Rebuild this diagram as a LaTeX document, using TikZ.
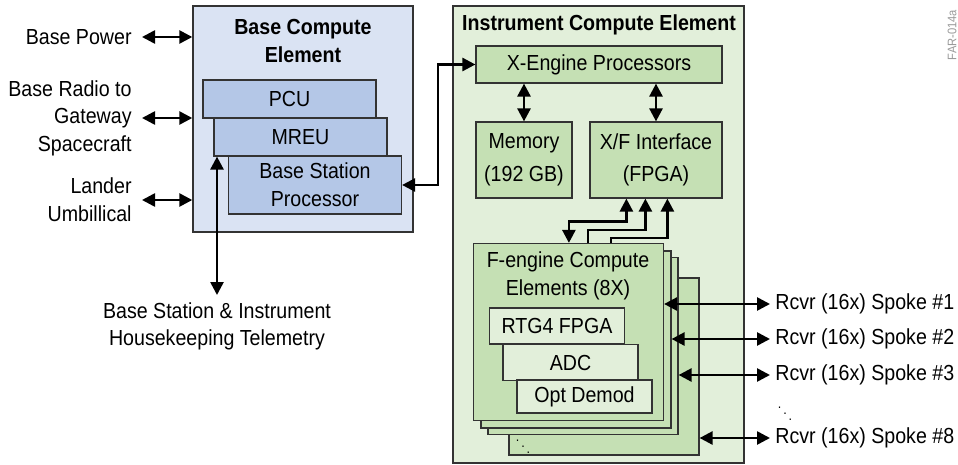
\documentclass[tikz,border=0pt]{standalone}
\usepackage{fontspec}
\setmainfont{Liberation Sans}[FakeStretch=0.9]
\usepackage{xcolor}
\usepackage{tikz}
\definecolor{basecolor}{RGB}{218, 227, 243}
\definecolor{baseinner}{RGB}{180, 199, 231}
\definecolor{instcolor}{RGB}{226, 239, 218}
\definecolor{instinner}{RGB}{197, 224, 180}
\usetikzlibrary{arrows.meta, positioning, calc}

\begin{document}
\begin{tikzpicture}[x=0.5pt, y=-0.5pt,
    every node/.style={font=\fontsize{10.9pt}{13.8pt}\selectfont},
    title/.style={font=\fontsize{10.9pt}{13.8pt}\selectfont\bfseries, align=center},
    outer/.style={rectangle, draw=black!80, line width=0.7pt, inner sep=0pt},
    block/.style={rectangle, draw=black!80, line width=0.6pt, inner sep=0pt, align=center},
    baseblock/.style={block, fill=baseinner, minimum width=86.5pt, minimum height=19pt},
    greenblock/.style={block, fill=instinner},
    festack/.style={block, fill=instinner, minimum width=95pt, minimum height=88.5pt},
    chip/.style={block, fill=instcolor, minimum width=67.5pt, minimum height=18pt},
    sidetext/.style={anchor=east, align=right, inner xsep=5pt, inner ysep=0pt},
    spoke/.style={anchor=west, inner xsep=2.5pt, inner ysep=0pt},
    dots/.style={font=\fontsize{7pt}{8pt}\selectfont},
    arrow/.style={{Triangle[length=6.5pt, width=6.5pt]}-{Triangle[length=6.5pt, width=6.5pt]}, line width=1.3pt},
    toarrow/.style={-{Triangle[length=6.5pt, width=6.5pt]}, line width=1.3pt}
]
    \useasboundingbox (0,0) rectangle (958,465);

    % Base compute element
    \node[outer, fill=basecolor, minimum width=110pt, minimum height=113pt] (bce) at (303,119) {};
    \node[title] (bcetitle) at (303,41) {Base Compute\\Element};
    \node[baseblock] (pcu) at (289.5,99) {PCU};
    \node[baseblock] (mreu) at (300.5,137) {MREU};
    \node[baseblock, minimum height=29pt] (bsp) at (315,185) {Base Station\\Processor};

    % Instrument compute element
    \node[outer, fill=instcolor, minimum width=145.5pt, minimum height=228.5pt] (ice) at (598.5,234.5) {};
    \node[title] (icetitle) at (599,25) {Instrument Compute Element};
    \node[greenblock, minimum width=123pt, minimum height=18.5pt] (xeng) at (599,64.5) {X-Engine Processors};
    \node[greenblock, minimum width=48pt, minimum height=38pt] (mem) at (524,160) {Memory\\[2.5pt](192 GB)};
    \node[greenblock, minimum width=66pt, minimum height=38pt] (xf) at (656,160) {X/F Interface\\[2.5pt](FPGA)};

    % F-engine stack
    \node[festack] (fe4) at (604,366.5) {};
    \node[festack] (fe3) at (583,346) {};
    \node[festack] (fe2) at (576,339.5) {};
    \node[festack] (fe1) at (568.5,332) {};
    \node[align=center] (fetitle) at (568,276) {F-engine Compute\\Elements (8X)};
    \node[dots] (fedots) at (523,441) {$\ddots$};
    \node[chip] (rtg) at (557,326) {RTG4 FPGA};
    \node[chip] (adc) at (570.5,362.5) {ADC};
    \node[chip, minimum height=16.5pt] (opt) at (584.5,396.5) {Opt Demod};

    % Outside labels
    \node[sidetext] (bpow) at (142,37) {Base Power};
    \node[sidetext] (radio) at (142,118) {Base Radio to\\Gateway\\Spacecraft};
    \node[sidetext] (lander) at (142,200) {Lander\\Umbillical};
    \node[align=center, anchor=north, inner xsep=0pt, inner ysep=3.5pt] (tlm) at (217,295) {Base Station \& Instrument\\Housekeeping Telemetry};
    \node[spoke] (sp1) at (770,304) {Rcvr (16x) Spoke \#1};
    \node[spoke] (sp2) at (770,339) {Rcvr (16x) Spoke \#2};
    \node[spoke] (sp3) at (770,375) {Rcvr (16x) Spoke \#3};
    \node[spoke] (sp8) at (770,438) {Rcvr (16x) Spoke \#8};
    \node[dots] (spdots) at (785,408) {$\ddots$};
    \node[rotate=90, text=black!40, font=\fontsize{6.2pt}{7pt}\selectfont] (farid) at (952,35) {FAR-014a};

    % Arrows
    \draw[arrow] (bpow.east) -- (bpow.east -| bce.west);
    \draw[arrow] (radio.east) -- (radio.east -| bce.west);
    \draw[arrow] (lander.east) -- (lander.east -| bce.west);
    \draw[arrow] (tlm.north) -- (tlm.north |- mreu.south);
    \draw[arrow] (bsp.east) -- ++(36,0) |- (xeng.west);
    \draw[arrow] (mem.north) -- (mem.north |- xeng.south);
    \draw[arrow] (xf.north) -- (xf.north |- xeng.south);
    \draw[arrow] ([xshift=18.5pt]xf.south west) -- ++(0,23) -| ([xshift=48pt]fe1.north west);
    \draw[toarrow] ([xshift=57.5pt]fe1.north west) -- ++(0,-13) -| ([xshift=28pt]xf.south west);
    \draw[toarrow] ([xshift=69pt]fe1.north west) -- ++(0,-5) -| ([xshift=39pt]xf.south west);
    \draw[arrow] (sp1.west) -- (sp1.west -| fe1.east);
    \draw[arrow] (sp2.west) -- (sp2.west -| fe2.east);
    \draw[arrow] (sp3.west) -- (sp3.west -| fe3.east);
    \draw[arrow] (sp8.west) -- (sp8.west -| fe4.east);
\end{tikzpicture}
\end{document}
